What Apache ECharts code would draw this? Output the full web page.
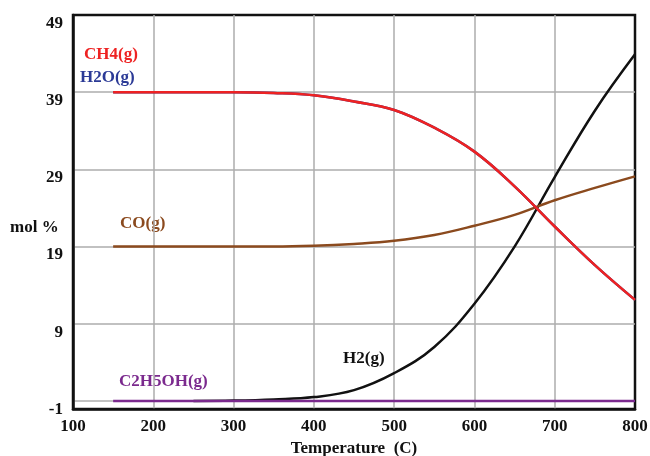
<!DOCTYPE html>
<html>
<head>
<meta charset="utf-8">
<script src="https://cdn.jsdelivr.net/npm/echarts@6/dist/echarts.min.js"></script>
<style>
  html, body { margin: 0; padding: 0; background: #fff; }
  #chart { width: 650px; height: 456px; }
</style>
</head>
<body>
<div id="chart"></div>
<script>
// Equilibrium composition (mol %) versus temperature
const temps = [150, 200, 250, 300, 350, 400, 450, 500, 550, 600, 650, 700, 750, 800];
const ch4   = [39, 39, 39, 39, 38.9, 38.6, 37.8, 36.7, 34.4, 31.3, 26.8, 21.6, 16.6, 12.1];
const h2o   = [39, 39, 39, 39, 38.9, 38.6, 37.8, 36.7, 34.4, 31.3, 26.8, 21.6, 16.6, 12.1];
const co    = [19, 19, 19, 19, 19, 19.1, 19.35, 19.75, 20.5, 21.7, 23.1, 25.0, 26.6, 28.1];
const h2Temps = [250, 300, 350, 400, 450, 500, 550, 600, 650, 700, 750, 800];
const h2      = [-1, -0.95, -0.8, -0.5, 0.4, 2.6, 6.0, 11.6, 19.0, 28.0, 36.6, 43.9];
const c2h5oh  = [-1, -1, -1, -1, -1, -1, -1, -1, -1, -1, -1, -1, -1, -1];

const yTicks = [-1, 9, 19, 29, 39, 49];

const pairs = (xs, ys) => xs.map((x, i) => [x, ys[i]]);
const FONT = '"Liberation Serif", "Times New Roman", serif';

function lineSeries(name, xs, ys, color) {
  return {
    name, type: 'line', data: pairs(xs, ys),
    smooth: 0.4, symbol: 'none',
    lineStyle: { color, width: 2.5 }, silent: true
  };
}

const chart = echarts.init(document.getElementById('chart'));
chart.setOption({
  animation: false,
  backgroundColor: '#fff',
  grid: {
    left: 73, right: 15, top: 15, bottom: 47,
    outerBoundsMode: 'none',
    show: true, borderColor: '#111', borderWidth: 2.5, backgroundColor: 'transparent'
  },
  xAxis: {
    type: 'value', min: 100, max: 800, interval: 100,
    name: 'Temperature  (C)', nameLocation: 'middle', nameGap: 31,
    nameTextStyle: { fontFamily: FONT, fontWeight: 'bold', fontSize: 17, color: '#111' },
    axisLine: { show: true, onZero: false, lineStyle: { color: '#111', width: 2.5 } },
    axisTick: { show: false },
    axisLabel: { margin: 9, fontFamily: FONT, fontWeight: 'bold', fontSize: 17, color: '#111' },
    splitLine: { show: true, showMinLine: false, showMaxLine: false, lineStyle: { color: '#adadad', width: 1.5 } }
  },
  yAxis: {
    type: 'value', min: -2.04, max: 49,
    axisLine: { show: true, onZero: false, lineStyle: { color: '#111', width: 2.5 } },
    axisTick: { show: false, customValues: yTicks },
    axisLabel: { customValues: yTicks, margin: 10, verticalAlign: 'top', fontFamily: FONT, fontWeight: 'bold', fontSize: 17, color: '#111' },
    splitLine: { show: true, showMaxLine: false, lineStyle: { color: '#adadad', width: 1.5 } }
  },
  series: [
    lineSeries('H2(g)', h2Temps, h2, '#111111'),
    lineSeries('C2H5OH(g)', temps, c2h5oh, '#7b2a8e'),
    lineSeries('CO(g)', temps, co, '#8b4a1e'),
    lineSeries('H2O(g)', temps, h2o, '#2b3a96'),
    lineSeries('CH4(g)', temps, ch4, '#ee2222')
  ],
  graphic: [
    { type: 'text', left: 10, top: 219, style: { text: 'mol %', font: 'bold 17px ' + FONT, fill: '#111' } },
    { type: 'text', left: 84, top: 46, style: { text: 'CH4(g)', font: 'bold 17px ' + FONT, fill: '#ee2222' } },
    { type: 'text', left: 80, top: 69, style: { text: 'H2O(g)', font: 'bold 17px ' + FONT, fill: '#2b3a96' } },
    { type: 'text', left: 120, top: 215, style: { text: 'CO(g)', font: 'bold 17px ' + FONT, fill: '#8b4a1e' } },
    { type: 'text', left: 343, top: 350, style: { text: 'H2(g)', font: 'bold 17px ' + FONT, fill: '#111' } },
    { type: 'text', left: 119, top: 373, style: { text: 'C2H5OH(g)', font: 'bold 17px ' + FONT, fill: '#7b2a8e' } }
  ]
});
</script>
</body>
</html>
